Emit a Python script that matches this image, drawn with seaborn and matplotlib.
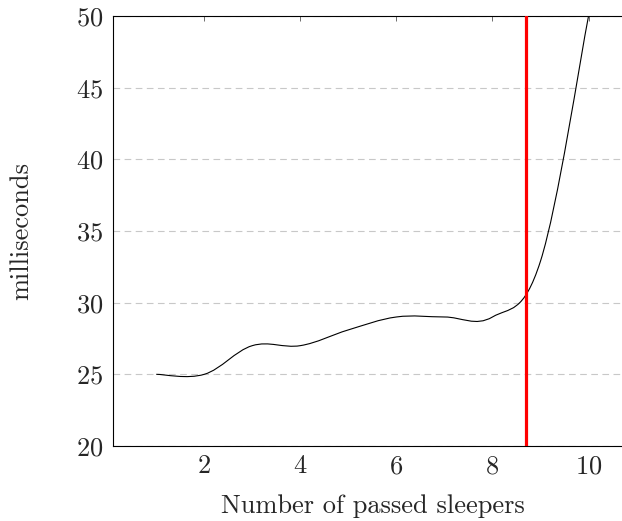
import seaborn as sns
import matplotlib.pyplot as plt
from matplotlib.path import Path
from matplotlib.patches import PathPatch

sleepers = [1, 2, 3, 4, 5, 6, 7, 8, 9, 10]
millis = [25, 25, 27, 27, 28.1, 29, 29, 29, 32.9, 50]
marker_x = 8.7

sns.set_style("white")
plt.rcParams['font.family'] = ['cmr10', 'DejaVu Serif']
plt.rcParams['axes.formatter.use_mathtext'] = True

fig = plt.figure(figsize=(6.22, 5.21), dpi=100)
ax = fig.add_axes([0.1817, 0.144, 0.834, 0.8253])

# smooth curve through the points (bezier, like tikz "smooth")
k = 0.18
pts = list(zip(sleepers, millis))
verts = [pts[0]]
codes = [Path.MOVETO]
for i in range(len(pts) - 1):
    p0 = pts[i - 1] if i > 0 else pts[i]
    p1, p2 = pts[i], pts[i + 1]
    p3 = pts[i + 2] if i + 2 < len(pts) else pts[i + 1]
    c1 = (p1[0] + k * (p2[0] - p0[0]), p1[1] + k * (p2[1] - p0[1]))
    c2 = (p2[0] - k * (p3[0] - p1[0]), p2[1] - k * (p3[1] - p1[1]))
    verts += [c1, c2, p2]
    codes += [Path.CURVE4] * 3
ax.add_patch(PathPatch(Path(verts, codes), facecolor='none', edgecolor='black', lw=0.8, zorder=3))

ax.axvline(marker_x, color='#ff0000', lw=2.3, zorder=4)

ax.set_xlim(0.1, 10.9)
ax.set_ylim(20, 50)
ax.set_xticks([2, 4, 6, 8, 10])
ax.set_yticks([20, 25, 30, 35, 40, 45, 50])
ax.yaxis.grid(True, color='#c8c8c8', linestyle=(0, (6, 4)), lw=0.8)
ax.set_axisbelow(True)
for s in ax.spines.values():
    s.set_color('black')
    s.set_linewidth(0.8)
ax.tick_params(axis='x', direction='in', top=True, length=3.5, width=0.6, color='#555555',
               labelsize=19, pad=6)
ax.tick_params(axis='y', direction='in', right=True, length=0, labelsize=19, pad=7)

ax.set_xlabel('Number of passed sleepers', fontsize=19, labelpad=12)
ax.set_ylabel('milliseconds', fontsize=19, labelpad=31)

fig.savefig('out.png', dpi=100)
